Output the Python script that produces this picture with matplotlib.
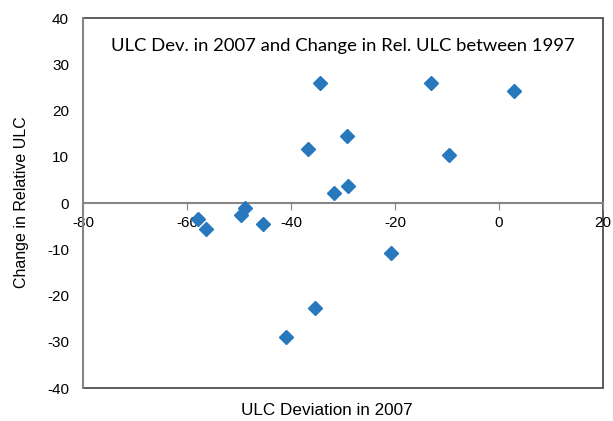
import matplotlib.pyplot as plt
from matplotlib.patches import Rectangle

# ULC deviation in 2007 (x) and change in relative ULC (y)
ulc_dev = [-57.8, -56.4, -48.8, -49.6, -45.4, -34.5, -36.7, -29.3, -31.7, -29.0,
           -20.8, -35.3, -41.0, -13.0, -9.5, 2.9]
rel_change = [-3.4, -5.6, -1.1, -2.6, -4.5, 25.9, 11.6, 14.6, 2.1, 3.7,
              -10.8, -22.6, -29.0, 26.0, 10.3, 24.3]

xticks = [-80, -60, -40, -20, 0, 20]
yticks = [-40, -30, -20, -10, 0, 10, 20, 30, 40]

plt.rcParams['font.family'] = ['Liberation Sans', 'DejaVu Sans']
plt.rcParams['axes.unicode_minus'] = False

fig = plt.figure(figsize=(6.13, 4.21), dpi=100)
ax = fig.add_axes([0.1354, 0.078, 0.848, 0.879])

ax.plot(ulc_dev, rel_change, 'D', color='#2878BD', ms=7, mec='#2878BD', zorder=3)

ax.set_xlim(-80, 20)
ax.set_ylim(-40, 40)
ax.set_xticks(xticks)
ax.set_yticks(yticks)

# frame first, then the gray axis lines on top
ax.add_patch(Rectangle((0, 0), 1, 1, transform=ax.transAxes, fill=False,
                       ec='#404040', lw=1.2, clip_on=False, zorder=1))
ax.spines['bottom'].set_position(('data', 0))
ax.spines['bottom'].set_color('#868686')
ax.spines['bottom'].set_linewidth(1.5)
ax.spines['left'].set_color('#868686')
ax.spines['left'].set_linewidth(1.5)
ax.spines['left'].set_zorder(2)
for s in ['top', 'right']:
    ax.spines[s].set_visible(False)

ax.tick_params(axis='x', direction='out', length=5, color='#868686', labelsize=11, pad=4)
ax.tick_params(axis='y', direction='out', length=0, labelsize=11, pad=10)

ax.text(0.5, 0.945, 'ULC Dev. in 2007 and Change in Rel. ULC between 1997',
        transform=ax.transAxes, ha='center', va='top', fontsize=13.3, family='Lato')

fig.text(0.533, 0.025, 'ULC Deviation in 2007', ha='center', va='center', fontsize=12.3)
fig.text(0.035, 0.52, 'Change in Relative ULC', ha='center', va='center',
         rotation=90, fontsize=11.5)

fig.savefig('out.png', dpi=100)
